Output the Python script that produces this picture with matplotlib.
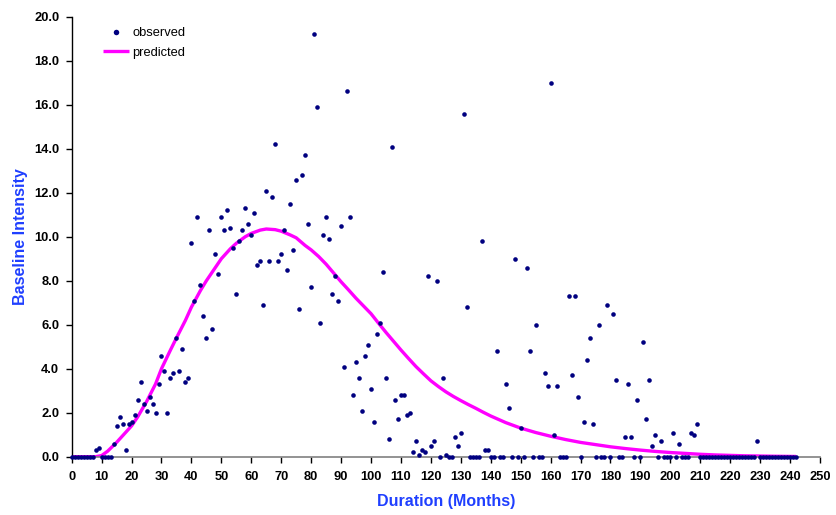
import numpy as np
import matplotlib
matplotlib.use("Agg")
import matplotlib.pyplot as plt

plt.rcParams["font.family"] = ["Liberation Sans", "DejaVu Sans"]

# Observed baseline intensity, one value per month (0 .. 242)
obs_months = np.arange(0, 243)
obs_values = [
    0, 0, 0, 0, 0, 0, 0, 0, 0.3, 0.4,                       # 0-9
    0, 0, 0, 0, 0.6, 1.4, 1.8, 1.5, 0.3, 1.5,               # 10-19
    1.6, 1.9, 2.6, 3.4, 2.4, 2.1, 2.7, 2.4, 2.0, 3.3,       # 20-29
    4.6, 3.9, 2.0, 3.6, 3.8, 5.4, 3.9, 4.9, 3.4, 3.6,       # 30-39
    9.7, 7.1, 10.9, 7.8, 6.4, 5.4, 10.3, 5.8, 9.2, 8.3,     # 40-49
    10.9, 10.3, 11.2, 10.4, 9.5, 7.4, 9.8, 10.3, 11.3, 10.6,  # 50-59
    10.1, 11.1, 8.7, 8.9, 6.9, 12.1, 8.9, 11.8, 14.2, 8.9,  # 60-69
    9.2, 10.3, 8.5, 11.5, 9.4, 12.6, 6.7, 12.8, 13.7, 10.6,  # 70-79
    7.7, 19.2, 15.9, 6.1, 10.1, 10.9, 9.9, 7.4, 8.2, 7.1,   # 80-89
    10.5, 4.1, 16.6, 10.9, 2.8, 4.3, 3.6, 2.1, 4.6, 5.1,    # 90-99
    3.1, 1.6, 5.6, 6.1, 8.4, 3.6, 0.8, 14.1, 2.6, 1.7,      # 100-109
    2.8, 2.8, 1.9, 2.0, 0.2, 0.7, 0.1, 0.3, 0.2, 8.2,       # 110-119
    0.5, 0.7, 8.0, 0, 3.6, 0.1, 0, 0, 0.9, 0.5,             # 120-129
    1.1, 15.6, 6.8, 0, 0, 0, 0, 9.8, 0.3, 0.3,              # 130-139
    0, 0, 4.8, 0, 0, 3.3, 2.2, 0, 9.0, 0,                   # 140-149
    1.3, 0, 8.6, 4.8, 0, 6.0, 0, 0, 3.8, 3.2,               # 150-159
    17.0, 1.0, 3.2, 0, 0, 0, 7.3, 3.7, 7.3, 2.7,            # 160-169
    0, 1.6, 4.4, 5.4, 1.5, 0, 6.0, 0, 0, 6.9,               # 170-179
    0, 6.5, 3.5, 0, 0, 0.9, 3.3, 0.9, 0, 2.6,               # 180-189
    0, 5.2, 1.7, 3.5, 0.5, 1.0, 0, 0.7, 0, 0,               # 190-199
    0, 1.1, 0, 0.6, 0, 0, 0, 1.1, 1.0, 1.5,                 # 200-209
    0, 0, 0, 0, 0, 0, 0, 0, 0, 0,                           # 210-219
    0, 0, 0, 0, 0, 0, 0, 0, 0, 0.7,                         # 220-229
    0, 0, 0, 0, 0, 0, 0, 0, 0, 0,                           # 230-239
    0, 0, 0,                                                # 240-242
]

# Predicted baseline intensity from the fitted model
pred_months = [0, 5, 8, 10, 12, 15, 18, 20, 22, 25, 28, 30, 33, 35, 38, 40,
               43, 45, 48, 50, 53, 55, 58, 60, 63, 65, 68, 70, 73, 75, 78,
               80, 82.5, 85, 87.5, 90, 92.5, 95, 97.5, 100, 102.5, 105,
               107.5, 110, 112.5, 115, 117.5, 120, 122.5, 125, 127.5, 130,
               132.5, 135, 137.5, 140, 142.5, 145, 150, 155, 160, 165, 170,
               175, 180, 185, 190, 195, 200, 205, 210, 215, 220, 225, 230,
               235, 242]
pred_values = [0, 0, 0, 0.05, 0.25, 0.65, 1.1, 1.4, 1.8, 2.5, 3.3, 4.0, 4.85,
               5.4, 6.2, 6.8, 7.55, 8.0, 8.6, 9.0, 9.45, 9.7, 10.0, 10.15,
               10.3, 10.35, 10.32, 10.25, 10.08, 9.95, 9.6, 9.4, 9.1, 8.75,
               8.35, 7.95, 7.58, 7.2, 6.85, 6.5, 6.07, 5.65, 5.25, 4.85,
               4.47, 4.1, 3.77, 3.45, 3.19, 2.95, 2.74, 2.55, 2.37, 2.2,
               2.02, 1.85, 1.7, 1.55, 1.3, 1.1, 0.93, 0.78, 0.65, 0.55,
               0.45, 0.37, 0.3, 0.24, 0.19, 0.15, 0.11, 0.08, 0.06, 0.04,
               0.03, 0.02, 0.01]

x_ticks = np.arange(0, 251, 10)
y_ticks = np.arange(0, 20.1, 2)

label_blue = "#1f3fff"
navy = "#000080"
magenta = "#ff00ff"

fig = plt.figure(figsize=(8.36, 5.15), dpi=100)
ax = fig.add_axes([71.7 / 836, (515 - 456.7) / 515,
                   (820 - 71.7) / 836, 440 / 515])

ax.plot(obs_months, obs_values, linestyle="none", marker="o",
        markersize=3.3, markeredgewidth=0, color=navy, label="observed",
        zorder=3, clip_on=False)
ax.plot(pred_months, pred_values, color=magenta, linewidth=2.4,
        label="predicted", zorder=2, solid_capstyle="butt",
        solid_joinstyle="round")

ax.set_xlim(0, 250)
ax.set_ylim(0, 20)
ax.set_xticks(x_ticks)
ax.set_xticklabels([f"{int(v)}" for v in x_ticks])
ax.set_yticks(y_ticks)
ax.set_yticklabels([f"{v:.1f}" for v in y_ticks])

for lab in ax.get_xticklabels() + ax.get_yticklabels():
    lab.set_fontweight("bold")
    lab.set_fontsize(9.3)

ax.tick_params(axis="y", direction="out", length=4, width=1, pad=5,
               colors="black")
ax.tick_params(axis="x", direction="out", length=4, width=1, pad=6.5,
               colors="black")

ax.spines["top"].set_visible(False)
ax.spines["right"].set_visible(False)
ax.spines["left"].set_color("black")
ax.spines["left"].set_linewidth(1)
ax.spines["bottom"].set_color("#808080")
ax.spines["bottom"].set_linewidth(1.2)

ax.set_xlabel("Duration (Months)", fontsize=11.5, fontweight="bold",
              color=label_blue)
ax.xaxis.set_label_coords(0.5, -0.102)
ax.xaxis.label.set_va("center")
ax.set_ylabel("Baseline Intensity", fontsize=11.5, fontweight="bold",
              color=label_blue)
ax.yaxis.set_label_coords(-0.068, 0.5)
ax.yaxis.label.set_va("center")

leg = ax.legend(loc="upper left", bbox_to_anchor=(26.5 / 748.3, 0.988),
                frameon=False, fontsize=9.3, handlelength=2.0,
                handletextpad=0.25, labelspacing=0.6, borderaxespad=0,
                markerscale=1.2)

fig.savefig("out.png", dpi=100)
